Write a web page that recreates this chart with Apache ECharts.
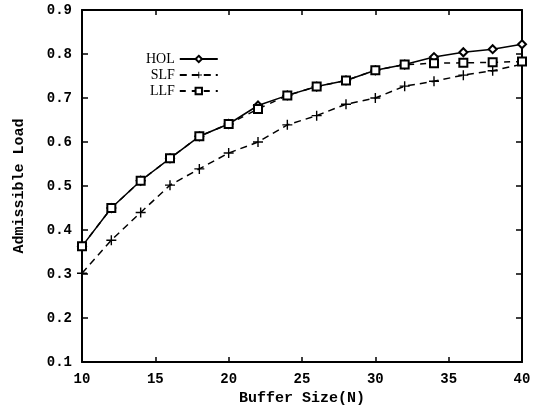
<!DOCTYPE html>
<html>
<head>
<meta charset="utf-8">
<script src="https://cdn.jsdelivr.net/npm/echarts@6/dist/echarts.min.js"></script>
<style>
html,body{margin:0;padding:0;background:#fff;}
#chart{width:536px;height:411px;}
</style>
</head>
<body>
<div id="chart"></div>
<script>
var bufferSizes = [10, 12, 14, 16, 18, 20, 22, 24, 26, 28, 30, 32, 34, 36, 38, 40];
var holValues = [0.363, 0.450, 0.512, 0.563, 0.613, 0.641, 0.683, 0.706, 0.726, 0.740, 0.763, 0.776, 0.793, 0.804, 0.811, 0.822];
var slfValues = [0.302, 0.377, 0.440, 0.502, 0.539, 0.575, 0.600, 0.639, 0.660, 0.686, 0.700, 0.727, 0.738, 0.752, 0.762, 0.777];
var llfValues = [0.363, 0.450, 0.512, 0.563, 0.613, 0.641, 0.675, 0.706, 0.726, 0.740, 0.763, 0.776, 0.779, 0.780, 0.781, 0.783];
var seriesNames = ['HOL', 'SLF', 'LLF'];

function pairs(vals) { return bufferSizes.map(function (x, i) { return [x, vals[i]]; }); }

var monoFont = '"Liberation Mono", "DejaVu Sans Mono", monospace';
var chart = echarts.init(document.getElementById('chart'), null, {renderer: 'canvas'});
var axisLineStyle = {color: '#000', width: 2};

chart.setOption({
  animation: false,
  backgroundColor: '#fff',
  grid: {left: 82, right: 14, top: 10, bottom: 44},
  legend: {
    orient: 'vertical',
    left: 141,
    top: 47,
    align: 'right',
    itemWidth: 38,
    itemHeight: 8,
    itemGap: 2,
    textStyle: {fontFamily: '"Liberation Serif", "DejaVu Serif", serif', fontSize: 14, color: '#000'},
    data: seriesNames
  },
  xAxis: [{
    type: 'value', min: 10, max: 40, interval: 5, position: 'bottom',
    name: 'Buffer Size(N)', nameLocation: 'middle', nameGap: 26,
    nameTextStyle: {fontFamily: monoFont, fontSize: 15, fontWeight: 'bold', color: '#000'},
    axisLine: {show: true, onZero: false, lineStyle: axisLineStyle},
    axisTick: {show: true, inside: true, length: 5, lineStyle: {color: '#000', width: 1.5}},
    axisLabel: {fontFamily: monoFont, fontSize: 14, fontWeight: 'bold', color: '#000', margin: 10},
    splitLine: {show: false}
  }, {
    type: 'value', min: 10, max: 40, interval: 5, position: 'top',
    axisLine: {show: true, onZero: false, lineStyle: axisLineStyle},
    axisTick: {show: true, inside: true, length: 5, lineStyle: {color: '#000', width: 1.5}},
    axisLabel: {show: false},
    splitLine: {show: false}
  }],
  yAxis: [{
    type: 'value', min: 0.1, max: 0.9, interval: 0.1, position: 'left',
    name: 'Admissible Load', nameLocation: 'middle', nameGap: 55,
    nameTextStyle: {fontFamily: monoFont, fontSize: 15, fontWeight: 'bold', color: '#000'},
    axisLine: {show: true, onZero: false, lineStyle: axisLineStyle},
    axisTick: {show: true, inside: true, length: 6, lineStyle: {color: '#000', width: 1.5}},
    axisLabel: {fontFamily: monoFont, fontSize: 14, fontWeight: 'bold', color: '#000', margin: 10,
      formatter: function (v) { return v.toFixed(1); }},
    splitLine: {show: false}
  }, {
    type: 'value', min: 0.1, max: 0.9, interval: 0.1, position: 'right',
    axisLine: {show: true, onZero: false, lineStyle: axisLineStyle},
    axisTick: {show: true, inside: true, length: 6, lineStyle: {color: '#000', width: 1.5}},
    axisLabel: {show: false},
    splitLine: {show: false}
  }],
  series: [{
    name: 'HOL', type: 'line', data: pairs(holValues),
    symbol: 'emptyDiamond', symbolSize: 8,
    lineStyle: {color: '#000', width: 1.5, type: 'solid'},
    itemStyle: {color: '#000', borderWidth: 1.2},
    z: 2
  }, {
    name: 'SLF', type: 'line', data: pairs(slfValues),
    symbol: 'path://M4.3,0H5.7V10H4.3Z M0,4.3H10V5.7H0Z', symbolSize: 10,
    lineStyle: {color: '#000', width: 1.5, type: [7, 5]},
    itemStyle: {color: '#000'},
    z: 3
  }, {
    name: 'LLF', type: 'line', data: pairs(llfValues),
    symbol: 'emptyRect', symbolSize: 8,
    lineStyle: {color: '#000', width: 1.5, type: [6, 6]},
    itemStyle: {color: '#000', borderWidth: 1.8},
    z: 4
  }]
});
</script>
</body>
</html>
